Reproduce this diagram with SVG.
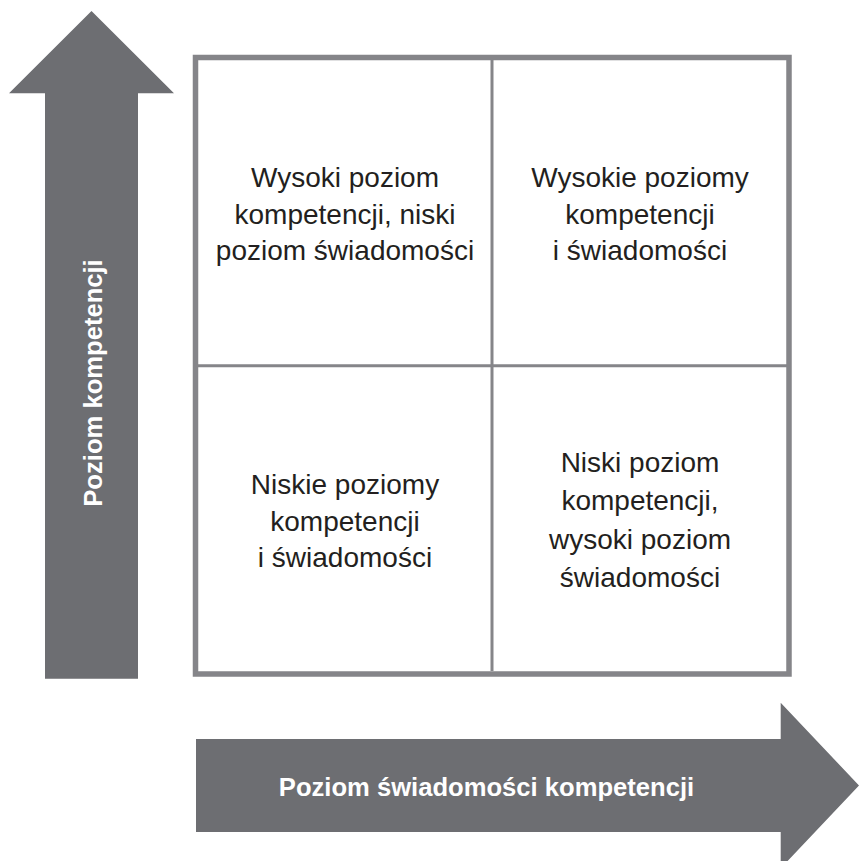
<svg xmlns="http://www.w3.org/2000/svg" width="859" height="861" viewBox="0 0 859 861">
<style>
.arrow{fill:#6d6e72;}
.frame{fill:#ffffff;stroke:#858589;stroke-width:5.5;}
.div{stroke:#858589;stroke-width:3;}
.cell{font-family:"Liberation Sans",Arial,sans-serif;font-size:28px;fill:#231f20;text-anchor:middle;}
.lbl{font-family:"Liberation Sans",Arial,sans-serif;font-size:25.6px;font-weight:bold;fill:#ffffff;text-anchor:middle;}
</style>
<rect width="859" height="861" fill="#ffffff"/>
<g id="axis-y">
<polygon class="arrow" points="91.5,11 174,93.3 138,93.3 138,678.7 45,678.7 45,93.3 9,93.3"/>
<text class="lbl" transform="translate(102,383) rotate(-90)" x="0" y="0">Poziom kompetencji</text>
</g>
<g id="axis-x">
<polygon class="arrow" points="196,739 780.7,739 780.7,702.7 859,785.5 780.7,868.3 780.7,832 196,832"/>
<text class="lbl" x="486.5" y="796">Poziom świadomości kompetencji</text>
</g>
<g id="grid">
<rect class="frame" x="195.5" y="57.5" width="593.5" height="616.5"/>
<line class="div" x1="492" y1="60" x2="492" y2="671"/>
<line class="div" x1="198" y1="365.7" x2="787" y2="365.7"/>
</g>
<g id="q-high-comp-low-aware">
<text class="cell" x="345" y="187">Wysoki poziom</text>
<text class="cell" x="345" y="223.5">kompetencji, niski</text>
<text class="cell" x="345" y="260">poziom świadomości</text>
</g>
<g id="q-high-both">
<text class="cell" x="640" y="187">Wysokie poziomy</text>
<text class="cell" x="640" y="223.5">kompetencji</text>
<text class="cell" x="640" y="260">i świadomości</text>
</g>
<g id="q-low-both">
<text class="cell" x="345" y="494">Niskie poziomy</text>
<text class="cell" x="345" y="530.5">kompetencji</text>
<text class="cell" x="345" y="567">i świadomości</text>
</g>
<g id="q-low-comp-high-aware">
<text class="cell" x="640" y="472">Niski poziom</text>
<text class="cell" x="640" y="510">kompetencji,</text>
<text class="cell" x="640" y="548.5">wysoki poziom</text>
<text class="cell" x="640" y="587">świadomości</text>
</g>
</svg>
